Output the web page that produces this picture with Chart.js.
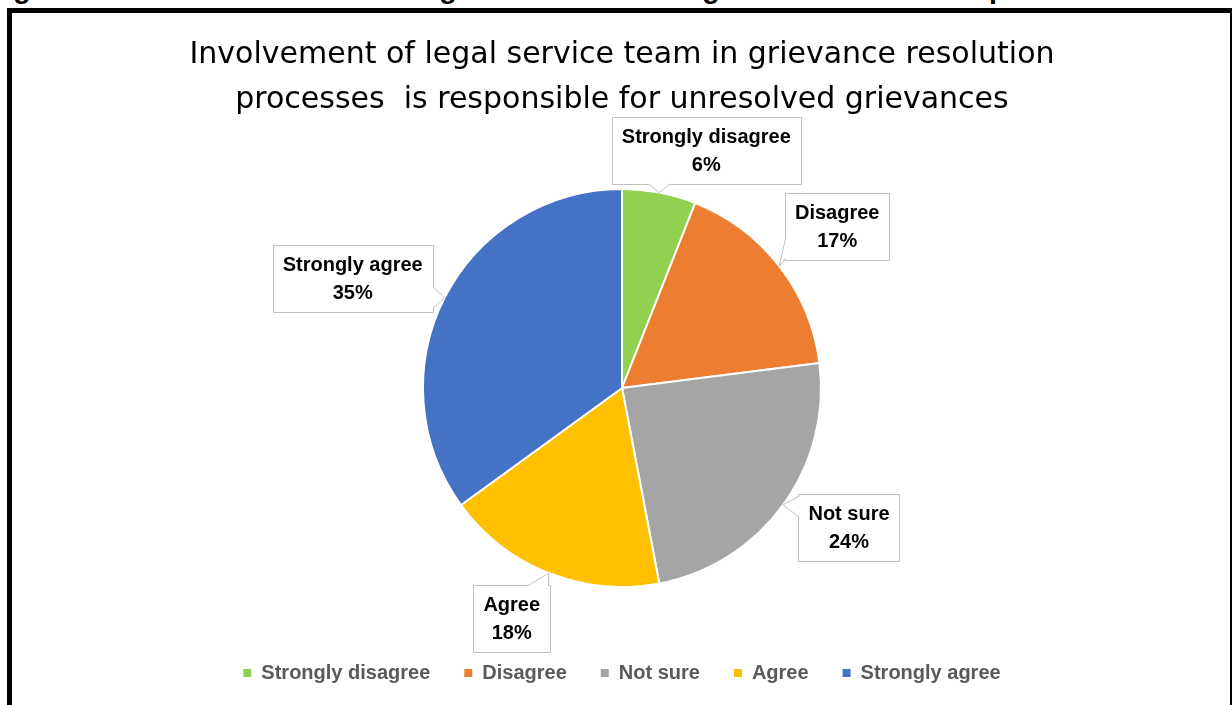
<!DOCTYPE html>
<html>
<head>
<meta charset="utf-8">
<title>Legal service team involvement</title>
<script src="https://cdn.jsdelivr.net/npm/chart.js@4.4.1/dist/chart.umd.min.js"></script>
<style>
  html, body { margin: 0; padding: 0; background: #fff; overflow: hidden; }
  body { width: 1232px; height: 705px; position: relative; }
  #caption {
    position: absolute; left: -12px; top: -26px;
    font: bold 28.5px 'Liberation Sans', Arial, sans-serif;
    line-height: 1; white-space: nowrap; color: #000;
  }
  #wrap { position: absolute; left: 0; top: 0; width: 1232px; height: 705px; }
  #frame {
    position: absolute; left: 7px; top: 8px; width: 1228px; height: 800px;
    box-sizing: border-box; border: 5px solid #000;
    pointer-events: none;
  }
</style>
</head>
<body>
<div id="caption">Figure 4.17: Involvement of the legal service team in grievance resolution processes</div>
<div id="wrap"><canvas id="pieChart"></canvas></div>
<div id="frame"></div>
<script>
const categories = ['Strongly disagree', 'Disagree', 'Not sure', 'Agree', 'Strongly agree'];
const shares = [6, 17, 24, 18, 35]; // percent of respondents
const sliceColors = ['#92D050', '#ED7D31', '#A5A5A5', '#FFC000', '#4472C4'];
const titleLines = [
    'Involvement of legal service team in grievance resolution',
    'processes  is responsible for unresolved grievances'
];
// where each callout box sits, relative to the edge point of its slice
const calloutOffsets = [[47, -42], [58, -40], [66, 23], [-37, 45], [-92, -19]];

const LABEL_FONT = 'bold 20px "Liberation Sans", Arial, sans-serif';

// white box with a little wedge pointing at (tx, ty)
function drawCallout(ctx, box, tx, ty) {
    const over = {
        left: box.l - tx,
        right: tx - box.r,
        top: box.t - ty,
        bottom: ty - box.b
    };
    const side = Object.keys(over).reduce((a, b) => over[b] > over[a] ? b : a);
    const half = 10;
    const along = (side === 'left' || side === 'right')
        ? Math.min(Math.max(ty, box.t + half + 2), box.b - half - 2)
        : Math.min(Math.max(tx, box.l + half + 2), box.r - half - 2);

    ctx.beginPath();
    ctx.moveTo(box.l, box.t);
    if (side === 'top') {
        ctx.lineTo(along - half, box.t); ctx.lineTo(tx, ty); ctx.lineTo(along + half, box.t);
    }
    ctx.lineTo(box.r, box.t);
    if (side === 'right') {
        ctx.lineTo(box.r, along - half); ctx.lineTo(tx, ty); ctx.lineTo(box.r, along + half);
    }
    ctx.lineTo(box.r, box.b);
    if (side === 'bottom') {
        ctx.lineTo(along + half, box.b); ctx.lineTo(tx, ty); ctx.lineTo(along - half, box.b);
    }
    ctx.lineTo(box.l, box.b);
    if (side === 'left') {
        ctx.lineTo(box.l, along + half); ctx.lineTo(tx, ty); ctx.lineTo(box.l, along - half);
    }
    ctx.closePath();
    ctx.fillStyle = '#ffffff';
    ctx.fill();
    ctx.lineWidth = 1;
    ctx.strokeStyle = '#BFBFBF';
    ctx.stroke();
}

const calloutPlugin = {
    id: 'callouts',
    afterDatasetsDraw(chart) {
        const ctx = chart.ctx;
        const meta = chart.getDatasetMeta(0);
        const values = chart.data.datasets[0].data;
        ctx.save();
        ctx.font = LABEL_FONT;
        meta.data.forEach((arc, i) => {
            const p = arc.getProps(['x', 'y', 'startAngle', 'endAngle', 'outerRadius'], true);
            const mid = (p.startAngle + p.endAngle) / 2;
            const tipX = p.x + Math.cos(mid) * p.outerRadius;
            const tipY = p.y + Math.sin(mid) * p.outerRadius;
            const lines = [chart.data.labels[i], values[i] + '%'];
            const w = Math.max(...lines.map(t => ctx.measureText(t).width)) + 20;
            const h = 67;
            const cx = tipX + calloutOffsets[i][0];
            const cy = tipY + calloutOffsets[i][1];
            const l = Math.round(cx - w / 2) + 0.5;
            const t = Math.round(cy - h / 2) + 0.5;
            drawCallout(ctx, { l: l, t: t, r: l + Math.round(w), b: t + h }, tipX, tipY);
            ctx.fillStyle = '#000000';
            ctx.textAlign = 'center';
            ctx.textBaseline = 'middle';
            ctx.fillText(lines[0], cx, cy - 13);
            ctx.fillText(lines[1], cx, cy + 15);
        });
        ctx.restore();
    }
};

const ctx = document.getElementById('pieChart').getContext('2d');
new Chart(ctx, {
    type: 'pie',
    data: {
        labels: categories,
        datasets: [{
            data: shares,
            backgroundColor: sliceColors,
            borderColor: '#ffffff',
            borderWidth: 2
        }]
    },
    options: {
        responsive: true,
        maintainAspectRatio: false,
        animation: false,
        layout: {
            padding: { left: 12, right: 0, top: 0, bottom: 12 }
        },
        plugins: {
            title: {
                display: true,
                text: titleLines,
                color: '#000000',
                font: { family: '"DejaVu Sans", sans-serif', size: 30, weight: 'normal', lineHeight: 1.5 },
                padding: { top: 32.5, bottom: 65.5 }
            },
            // empty bottom band keeps the legend away from the pie
            subtitle: {
                display: true,
                text: '',
                position: 'bottom',
                weight: 500,
                font: { size: 1, lineHeight: 1 },
                padding: { top: 40, bottom: 0 }
            },
            legend: {
                position: 'bottom',
                labels: {
                    boxWidth: 8,
                    boxHeight: 8,
                    padding: 34,
                    color: '#595959',
                    font: { family: '"Liberation Sans", Arial, sans-serif', size: 20, weight: 'bold' },
                    generateLabels: chart => Chart.overrides.doughnut.plugins.legend.labels
                        .generateLabels(chart).map(item => ({ ...item, lineWidth: 0 }))
                }
            },
            tooltip: { enabled: false }
        }
    },
    plugins: [calloutPlugin]
});
</script>
</body>
</html>
